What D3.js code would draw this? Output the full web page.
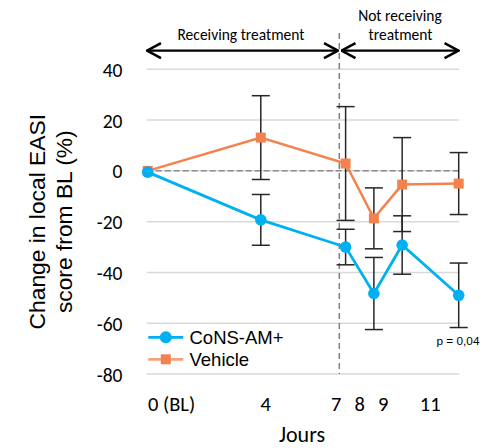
<!DOCTYPE html>
<html><head><meta charset="utf-8">
<script src="https://cdn.jsdelivr.net/npm/d3@7"></script>
<style>body{margin:0;background:#fff}svg{display:block}</style>
</head><body>
<svg id="c" width="494" height="448"></svg>
<script>
const days = [0, 4, 7, 8, 9, 11];
const tickDays = [0, 4, 7, 8, 9, 11];
const tickLabels = ["0 (BL)", "4", "7", "8", "9", "11"];
const yTicks = [-80, -60, -40, -20, 0, 20, 40];
const consMean = [-0.5, -19.3, -30, -48.3, -29.2, -49];
const consErr = [0, 10, 7, 14.2, 11.5, 12.7];
const vehMean = [0, 13.1, 2.9, -18.7, -5.4, -5.0];
const vehErr = [0, 16.5, 22.4, 12, 18.5, 12.2];
const seriesNames = ["CoNS-AM+", "Vehicle"];
const colors = ["#00B0F0", "#F4824F"];

const svg = d3.select("#c");
const x = d3.scaleLinear().domain([0, 11]).range([147.7, 458.7]);
const xl = d3.scaleLinear().domain([0, 11]).range([171, 429.7]);
const y = d3.scaleLinear().domain([-80, 40]).range([374, 69.3]);
const calibri = "Carlito, Calibri, Lato, sans-serif";
const arial = "Liberation Sans, Arial, sans-serif";

// gridlines
svg.append("g").selectAll("line").data(yTicks).join("line")
  .attr("x1", 146.7).attr("x2", 459.3)
  .attr("y1", d => y(d)).attr("y2", d => y(d))
  .attr("stroke", "#d9d9d9").attr("stroke-width", 1.5);

// zero dashed
svg.append("line").attr("x1", 146.7).attr("x2", 459.3).attr("y1", y(0)).attr("y2", y(0))
  .attr("stroke", "#8c8c8c").attr("stroke-width", 1.5).attr("stroke-dasharray", "6,3");

// vertical dashed
svg.append("line").attr("x1", 339.3).attr("x2", 339.3).attr("y1", 33).attr("y2", 374)
  .attr("stroke", "#808080").attr("stroke-width", 1.5).attr("stroke-dasharray", "6,4");

// y axis ticks
const yAxis = d3.axisLeft(y).tickValues(yTicks).tickFormat(d => String(d)).tickSize(0).tickPadding(0);
const gy = svg.append("g").attr("transform", "translate(122.5,0)").call(yAxis);
gy.select(".domain").remove();
gy.selectAll("text").attr("font-family", calibri).attr("font-size", 19.5).attr("fill", "#000").attr("dy", "0.36em");

// x axis labels
const xAxis = d3.axisBottom(xl).tickValues(tickDays).tickFormat((d, i) => tickLabels[i]).tickSize(0).tickPadding(0);
const gx = svg.append("g").attr("transform", "translate(0,396)").call(xAxis);
gx.select(".domain").remove();
gx.selectAll("text").attr("font-family", calibri).attr("font-size", 20.5).attr("fill", "#000").attr("dy", "0.71em");

// axis titles
svg.append("text").attr("x", 302).attr("y", 442).attr("text-anchor", "middle")
  .attr("font-family", calibri).attr("font-size", 22).text("Jours");
const yt = svg.append("text").attr("transform", "translate(0,221.7) rotate(-90)")
  .attr("text-anchor", "middle").attr("font-family", arial).attr("font-size", 22.8);
yt.append("tspan").attr("x", 0).attr("y", 45).text("Change in local EASI");
yt.append("tspan").attr("x", 0).attr("y", 71.5).text("score from BL (%)");

// error bars
function errBars(mean, err) {
  const g = svg.append("g").attr("stroke", "#262626").attr("stroke-width", 1.5);
  days.forEach((d, i) => {
    if (err[i] === 0) return;
    const cx = x(d), t = y(mean[i] + err[i]), b = y(mean[i] - err[i]);
    g.append("line").attr("x1", cx).attr("x2", cx).attr("y1", t).attr("y2", b);
    g.append("line").attr("x1", cx - 9).attr("x2", cx + 9).attr("y1", t).attr("y2", t);
    g.append("line").attr("x1", cx - 9).attr("x2", cx + 9).attr("y1", b).attr("y2", b);
  });
}
errBars(vehMean, vehErr);
errBars(consMean, consErr);

const line = d3.line().x((d, i) => x(days[i])).y(d => y(d));
// vehicle
svg.append("path").datum(vehMean).attr("d", line).attr("fill", "none")
  .attr("stroke", colors[1]).attr("stroke-width", 2.5);
svg.append("g").selectAll("rect").data(vehMean).join("rect")
  .attr("x", (d, i) => x(days[i]) - 5).attr("y", d => y(d) - 5)
  .attr("width", 10).attr("height", 10).attr("fill", colors[1]);
// cons
svg.append("path").datum(consMean).attr("d", line).attr("fill", "none")
  .attr("stroke", colors[0]).attr("stroke-width", 2.75);
svg.append("g").selectAll("circle").data(consMean).join("circle")
  .attr("cx", (d, i) => x(days[i])).attr("cy", d => y(d)).attr("r", 5.8).attr("fill", colors[0]);

// legend
const lg = svg.append("g");
[0, 1].forEach(i => {
  const ly = 337.3 + i * 22;
  lg.append("line").attr("x1", 148.3).attr("x2", 183.3).attr("y1", ly).attr("y2", ly)
    .attr("stroke", colors[i]).attr("stroke-width", 2.75).attr("opacity", i === 1 ? 0.75 : 1);
  if (i === 0) lg.append("circle").attr("cx", 165.8).attr("cy", ly).attr("r", 6).attr("fill", colors[0]);
  else lg.append("rect").attr("x", 160.8).attr("y", ly - 5).attr("width", 10).attr("height", 10).attr("fill", colors[1]);
  lg.append("text").attr("x", 189.5).attr("y", ly + 6.2).attr("font-family", arial).attr("font-size", 18.5).text(seriesNames[i]);
});

// p-value
svg.append("text").attr("x", 479.5).attr("y", 345).attr("text-anchor", "end")
  .attr("font-family", arial).attr("font-size", 11.8).text("p = 0,04");

// arrows
svg.append("defs").append("marker").attr("id", "ah").attr("viewBox", "0 0 16 18")
  .attr("refX", 15).attr("refY", 9).attr("markerWidth", 16).attr("markerHeight", 18)
  .attr("markerUnits", "userSpaceOnUse").attr("orient", "auto-start-reverse")
  .append("path").attr("d", "M1,1.5 L15,9 L1,16.5").attr("fill", "none").attr("stroke", "#000").attr("stroke-width", 2.5);
const ay = 50.7;
svg.append("line").attr("x1", 147).attr("x2", 338).attr("y1", ay).attr("y2", ay)
  .attr("stroke", "#000").attr("stroke-width", 2.2).attr("marker-start", "url(#ah)").attr("marker-end", "url(#ah)");
svg.append("line").attr("x1", 341.5).attr("x2", 458.5).attr("y1", ay).attr("y2", ay)
  .attr("stroke", "#000").attr("stroke-width", 2.2).attr("marker-start", "url(#ah)").attr("marker-end", "url(#ah)");

svg.append("text").attr("x", 241).attr("y", 39.5).attr("text-anchor", "middle")
  .attr("font-family", calibri).attr("font-size", 15.5).text("Receiving treatment");
svg.append("text").attr("x", 400).attr("y", 20.5).attr("text-anchor", "middle")
  .attr("font-family", calibri).attr("font-size", 15.5).text("Not receiving");
svg.append("text").attr("x", 400.5).attr("y", 39.5).attr("text-anchor", "middle")
  .attr("font-family", calibri).attr("font-size", 15.5).text("treatment");
</script>
</body></html>
